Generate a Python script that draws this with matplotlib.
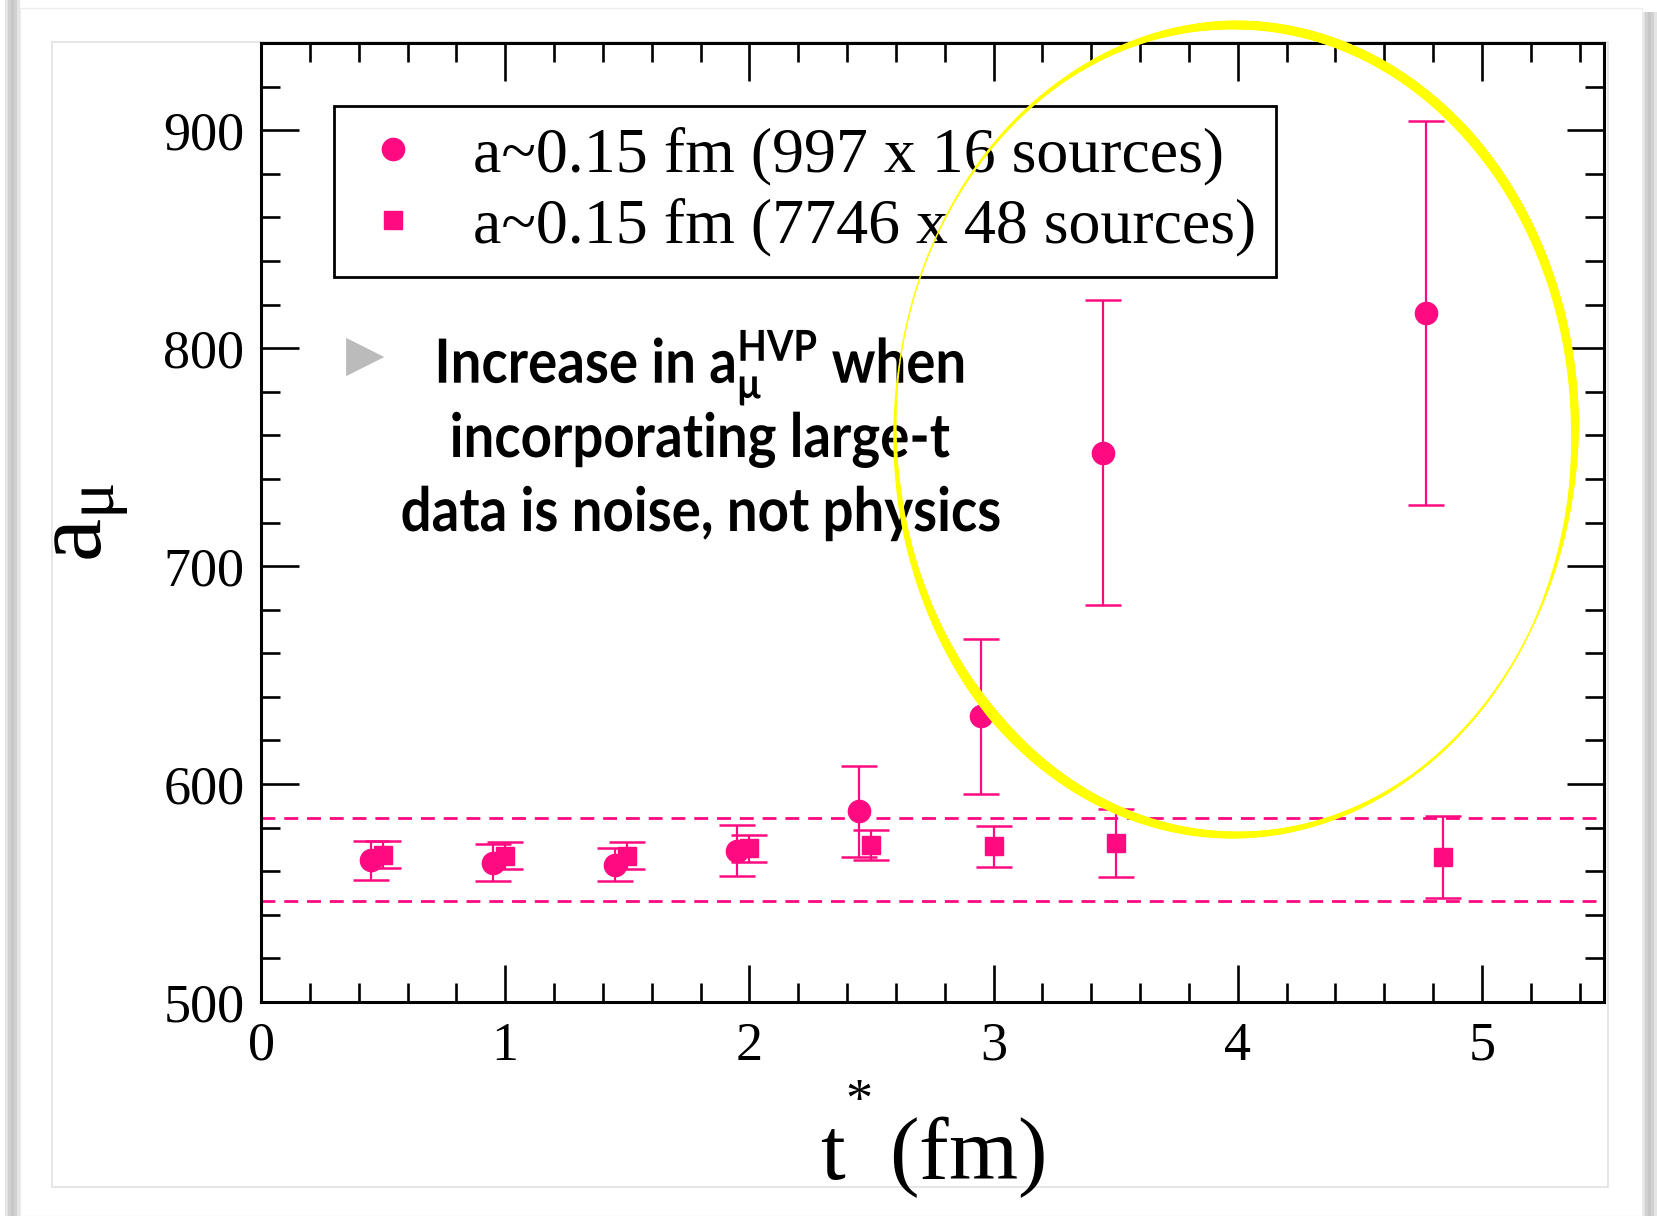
import matplotlib
matplotlib.use('Agg')
import matplotlib.pyplot as plt
import numpy as np
from matplotlib.collections import LineCollection
from matplotlib.font_manager import FontProperties
from matplotlib.lines import Line2D
from matplotlib.patches import PathPatch, Rectangle
from matplotlib.textpath import TextPath
from matplotlib.ticker import MultipleLocator
from matplotlib.transforms import Affine2D

# values
t_circ = [0.45, 0.95, 1.45, 1.95, 2.45, 2.95, 3.45, 4.77]
amu_circ = [565.0, 564.0, 563.0, 569.5, 587.5, 631.0, 752.0, 816.0]
err_circ = [9.0, 8.7, 7.7, 11.8, 21.0, 35.5, 70.0, 88.0]

t_sq = [0.50, 1.00, 1.50, 2.00, 2.50, 3.00, 3.50, 4.84]
amu_sq = [567.5, 567.0, 567.0, 570.5, 572.0, 571.5, 573.0, 566.5]
err_sq = [6.2, 6.2, 6.2, 6.3, 7.0, 9.4, 15.6, 19.0]

band = [546.2, 584.5]

series_labels = ['a~0.15 fm (997 x 16 sources)', 'a~0.15 fm (7746 x 48 sources)']
note_lines = [r'Increase in a$\mathregular{_{\mu}^{HVP}}$ when',
              'incorporating large-t',
              'data is noise, not physics']

pink = '#ff0a80'
serif = ['Liberation Serif', 'DejaVu Serif']

W, H = 1657, 1216


def fx(px):
    return px / W


def fy(py):
    return 1 - py / H


fig = plt.figure(figsize=(W / 100, H / 100), dpi=100)
fig.patch.set_facecolor('white')

# slide-like card: shadows on the sides and a faint frame
for i, a in enumerate([0.10, 0.18, 0.22, 0.18, 0.10]):
    fig.add_artist(Rectangle((fx(5 + 3 * i), 0), 3 / W, 1, transform=fig.transFigure,
                             color='black', alpha=a, lw=0, zorder=0))
    fig.add_artist(Rectangle((fx(1642 + 3 * i), 0), 3 / W, fy(12), transform=fig.transFigure,
                             color='black', alpha=a, lw=0, zorder=0))
fig.add_artist(Rectangle((fx(20), fy(1216)), fx(1622), fy(8), transform=fig.transFigure,
                         facecolor='white', edgecolor='#eeeeee', lw=1, zorder=0.5))
fig.add_artist(Rectangle((fx(52), fy(1187)), fx(1608 - 52), (1187 - 42) / H,
                         transform=fig.transFigure, facecolor='none',
                         edgecolor='#e2e2e2', lw=1.2, zorder=0.6))

ax = fig.add_axes([fx(261), fy(1002), fx(1604 - 261), (1002 - 43) / H])
ax.set_zorder(1)
ax.patch.set_alpha(0)

ax.axhline(band[0], color=pink, lw=2, dashes=(5, 3.2))
ax.axhline(band[1], color=pink, lw=2, dashes=(5, 3.2))

ax.errorbar(t_circ, amu_circ, yerr=err_circ, fmt='o', color=pink, ms=16,
            elinewidth=1.6, capsize=13, capthick=1.8)
ax.errorbar(t_sq, amu_sq, yerr=err_sq, fmt='s', color=pink, ms=13.5,
            elinewidth=1.6, capsize=13, capthick=1.8)

ax.set_xlim(0, 5.5)
ax.set_ylim(500, 940)
ax.xaxis.set_major_locator(MultipleLocator(1))
ax.xaxis.set_minor_locator(MultipleLocator(0.2))
ax.yaxis.set_major_locator(MultipleLocator(100))
ax.yaxis.set_minor_locator(MultipleLocator(20))
ax.tick_params(which='both', direction='in', top=True, right=True, width=1.9,
               labelsize=39)
ax.tick_params(which='major', length=27)
ax.tick_params(which='minor', length=13.5)
ax.tick_params(axis='x', pad=14)
ax.tick_params(axis='y', pad=12)
for lab in ax.get_xticklabels() + ax.get_yticklabels():
    lab.set_family(serif)
for sp in ax.spines.values():
    sp.set_linewidth(2.2)

# math layout keeps the label box tight to the ink, so the star fits above it
ax.set_xlabel(r'$\mathregular{t}$  (fm)', fontsize=64, family=serif, labelpad=30)
ax.set_ylabel(r'a$\mathregular{_{\mu}}$', fontsize=70, family=serif, labelpad=24)
# the star of t* sits well above the t
fig.text(fx(858), fy(1101), r'$\mathregular{*}$', fontsize=39, family=serif,
         ha='center', va='center')

handles = [Line2D([], [], marker='o', ls='none', color=pink, ms=16),
           Line2D([], [], marker='s', ls='none', color=pink, ms=13.5)]
leg = ax.legend(handles, series_labels, loc='upper left',
                bbox_to_anchor=(fx(334), fy(106)), bbox_transform=fig.transFigure,
                borderaxespad=0, prop={'family': serif, 'size': 46},
                borderpad=0.32, handlelength=1.2, handletextpad=0.65,
                labelspacing=0.2, fancybox=False, framealpha=1, edgecolor='black')
leg.get_frame().set_linewidth(2)

# grey bullet
fig.text(fx(365), fy(356), '\u25b6', fontsize=36, color='#b4b4b4', alpha=0.9,
         ha='center', va='center', family='DejaVu Sans', zorder=5)

# handwritten-looking note: bold glyphs squeezed horizontally
note_font = FontProperties(family=['Lato', 'DejaVu Sans'], weight='bold')
paths = [TextPath((0, 0), s, size=61, prop=note_font) for s in note_lines]
sx = 597 / paths[2].get_extents().width
for i, p in enumerate(paths):
    e = p.get_extents()
    x0 = 701 - sx * (e.x0 + e.width / 2)
    tr = Affine2D().scale(sx / W, 1 / H).translate(fx(x0), fy(383 + 74 * i)) + fig.transFigure
    fig.add_artist(PathPatch(p, transform=tr, facecolor='black', lw=0, zorder=5))

# hand drawn yellow ellipse with varying stroke width
cx, cy, ra, rb = 1235, 430, 340, 405
theta = np.linspace(0, 360, 721)
key_deg = [0, 45, 90, 120, 150, 170, 190, 225, 270, 300, 330, 350, 360]
key_px = [8, 10, 9, 4, 1.5, 1.5, 5, 11, 7, 3, 1.5, 5, 8]
wid = np.interp(theta, key_deg, key_px) * 0.72
px = cx + ra * np.cos(np.radians(theta))
py = cy - rb * np.sin(np.radians(theta))
pts = np.column_stack([fx(px), fy(py)])
segs = np.stack([pts[:-1], pts[1:]], axis=1)
lc = LineCollection(segs, linewidths=wid[:-1], colors='#ffff00',
                    transform=fig.transFigure, capstyle='round', zorder=10)
fig.add_artist(lc)

fig.savefig('out.png', dpi=100)
